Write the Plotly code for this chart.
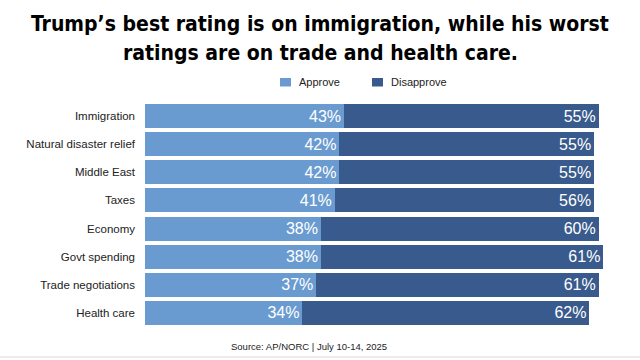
import plotly.graph_objects as go

categories = ["Immigration", "Natural disaster relief", "Middle East", "Taxes",
              "Economy", "Govt spending", "Trade negotiations", "Health care"]
approve = [43, 42, 42, 41, 38, 38, 37, 34]
disapprove = [55, 55, 55, 56, 60, 61, 61, 62]
series_names = ["Approve", "Disapprove"]
title_lines = ["Trump’s best rating is on immigration, while his worst",
               "ratings are on trade and health care."]
source_text = "Source: AP/NORC | July 10-14, 2025"

APPROVE_C = "#6a9bd0"
DISAPPROVE_C = "#385a8c"
colors = [APPROVE_C, DISAPPROVE_C]

# plot area in pixels
L, T, R, B = 145, 102, 608, 327
PW, PH = R - L, B - T
def px(x): return (x - L) / PW
def py(y): return (B - y) / PH

fig = go.Figure()
for name, vals, col in zip(series_names, [approve, disapprove], colors):
    fig.add_trace(go.Bar(
        y=categories, x=vals, orientation="h", name=name,
        marker=dict(color=col, line=dict(width=0)),
        text=[f"{v}%" for v in vals], textposition="inside", insidetextanchor="end",
        textfont=dict(color="white", size=16, family="Liberation Sans, Arial"),
        cliponaxis=False, showlegend=False,
    ))

fig.update_layout(
    width=640, height=360,
    barmode="stack", bargap=0.15,
    margin=dict(l=L, r=640 - R, t=T, b=360 - B, autoexpand=False),
    paper_bgcolor="white", plot_bgcolor="white",
    font=dict(family="Liberation Sans, Arial", size=12, color="#222"),
    xaxis=dict(range=[0, 100], visible=False, fixedrange=True),
    yaxis=dict(autorange="reversed", showline=False, showgrid=False, ticks="",
               ticklabelstandoff=9, tickfont=dict(size=11.5, color="#222")),
    showlegend=False,
    uniformtext=dict(minsize=10, mode="show"),
)

# title lines
for line, yc in zip(title_lines, [24, 53]):
    fig.add_annotation(text=f"<b>{line}</b>", xref="paper", yref="paper",
                       x=px(320), y=py(yc), showarrow=False, xanchor="center", yanchor="middle",
                       font=dict(family="DejaVu Sans Condensed, Arial Narrow, Arial", size=21, color="black"))

# manual legend
for name, col, sx in zip(series_names, colors, [280, 372]):
    fig.add_shape(type="rect", xref="paper", yref="paper",
                  x0=px(sx), x1=px(sx + 11), y0=py(78), y1=py(86.5),
                  fillcolor=col, line=dict(width=0))
    fig.add_annotation(text=name, xref="paper", yref="paper", x=px(sx + 17), y=py(82),
                       showarrow=False, xanchor="left", yanchor="middle",
                       font=dict(size=11, color="#222"))

fig.add_annotation(text=source_text, xref="paper", yref="paper",
                   x=px(309), y=py(346), showarrow=False, xanchor="center", yanchor="middle",
                   font=dict(size=9.5, color="#222"))
fig.add_shape(type="line", xref="paper", yref="paper", x0=px(0), x1=px(640),
              y0=py(357), y1=py(357), line=dict(color="#d8d8d8", width=1))

fig.write_html("out.html", config={"displayModeBar": False},
               post_script="document.body.style.margin='0';document.body.style.overflow='hidden';")
